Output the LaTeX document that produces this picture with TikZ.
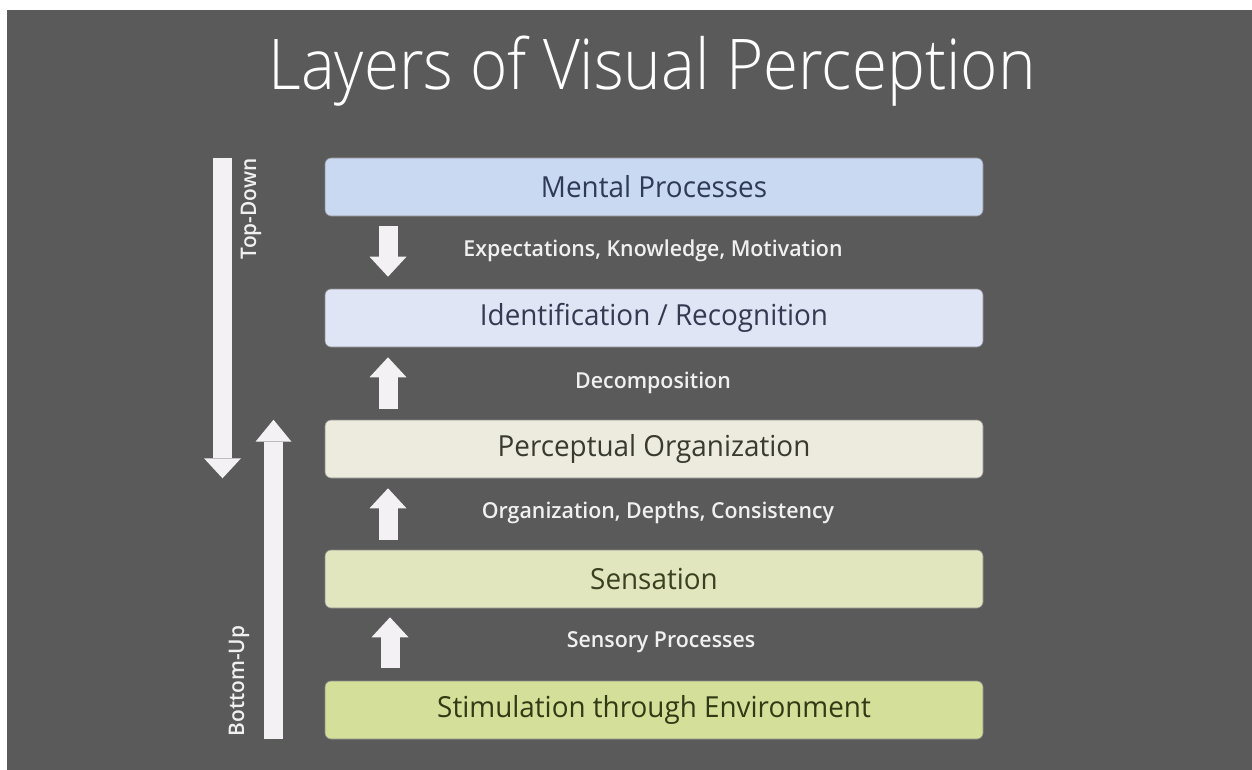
\documentclass[tikz,border=0pt]{standalone}
\usepackage{fontspec}
\setmainfont{Open Sans}[FakeStretch=0.96]
\newfontfamily\lightfont{Open Sans Light}[FakeStretch=0.91]
\newfontfamily\semifont{Open Sans Semibold}[FakeStretch=0.97]
\usetikzlibrary{arrows.meta}

\definecolor{slate}{HTML}{5A5A5A}
\definecolor{arrowwhite}{HTML}{F4F1F4}
\definecolor{fillA}{HTML}{C9D9F1}
\definecolor{fillB}{HTML}{E0E5F6}
\definecolor{fillC}{HTML}{ECEBDD}
\definecolor{fillD}{HTML}{E1E6BF}
\definecolor{fillE}{HTML}{D4E09A}
\definecolor{inkA}{HTML}{2E3A56}
\definecolor{inkB}{HTML}{343A50}
\definecolor{inkC}{HTML}{393A30}
\definecolor{inkD}{HTML}{3A4120}
\definecolor{inkE}{HTML}{323915}

\tikzset{
  layer/.style={rounded corners=6pt, draw=black!45, line width=0.6pt,
    minimum width=658pt, minimum height=58pt, inner sep=0pt,
    font=\fontsize{29}{34}\selectfont},
  steplabel/.style={text=white!94!black, font=\semifont\fontsize{22}{26}\selectfont},
  sidelabel/.style={text=white!94!black, rotate=90, font=\semifont\fontsize{21.5}{24}\selectfont},
  fatarrow/.style={draw=arrowwhite, line width=19pt,
    -{Triangle[width=37pt,length=20pt,line width=0pt,fill=arrowwhite]}},
}

\begin{document}
\begin{tikzpicture}[x=1pt,y=-1pt]
  % page and slide background
  \fill[white] (0,0) rectangle (1252,770);
  \fill[slate] (7,10) rectangle (1252,770);
  \useasboundingbox (0,0) rectangle (1252,770);

  % title
  \node[anchor=base, text=white, font=\lightfont\fontsize{70}{80}\selectfont]
    (title) at (652,90) {Layers of Visual Perception};

  % the five layers
  \node[layer, fill=fillA, text=inkA] (mental) at (654,187) {Mental Processes};
  \node[layer, fill=fillB, text=inkB] (ident)  at (654,318) {Identification / Recognition};
  \node[layer, fill=fillC, text=inkC] (percep) at (654,449) {Perceptual Organization};
  \node[layer, fill=fillD, text=inkD] (sens)   at (654,579) {Sensation};
  \node[layer, fill=fillE, text=inkE] (stim)   at (654,710) {Stimulation through Environment};

  % labels between the layers
  \node[steplabel] (lab1) at (653,251) {Expectations, Knowledge, Motivation};
  \node[steplabel] (lab2) at (653,383) {Decomposition};
  \node[steplabel] (lab3) at (658,513) {Organization, Depths, Consistency};
  \node[steplabel] (lab4) at (661,642) {Sensory Processes};

  % columns for the arrows
  \coordinate (ax) at (388,0);
  \coordinate (bx) at (390,0);
  \coordinate (tdx) at (222.5,0);
  \coordinate (bux) at (273.5,0);

  % short arrows between layers
  \draw[fatarrow, shorten <=10pt, shorten >=12pt] (mental.south -| ax) -- (ident.north -| ax);
  \draw[fatarrow, shorten <=11pt, shorten >=10pt] (percep.north -| ax) -- (ident.south -| ax);
  \draw[fatarrow, shorten <=10pt, shorten >=10pt] (sens.north -| ax) -- (percep.south -| ax);
  \draw[fatarrow, shorten <=13pt, shorten >=9pt] (stim.north -| bx) -- (sens.south -| bx);

  % long top-down and bottom-up arrows
  \draw[fatarrow] (mental.north -| tdx) -- (percep.south -| tdx);
  \draw[fatarrow, -{Triangle[width=36pt,length=22pt,line width=0pt,fill=arrowwhite]}]
    (stim.south -| bux) -- (percep.north -| bux);

  \node[sidelabel] (td) at (251,209) {Top-Down};
  \node[sidelabel] (bu) at (239,681) {Bottom-Up};
\end{tikzpicture}
\end{document}
